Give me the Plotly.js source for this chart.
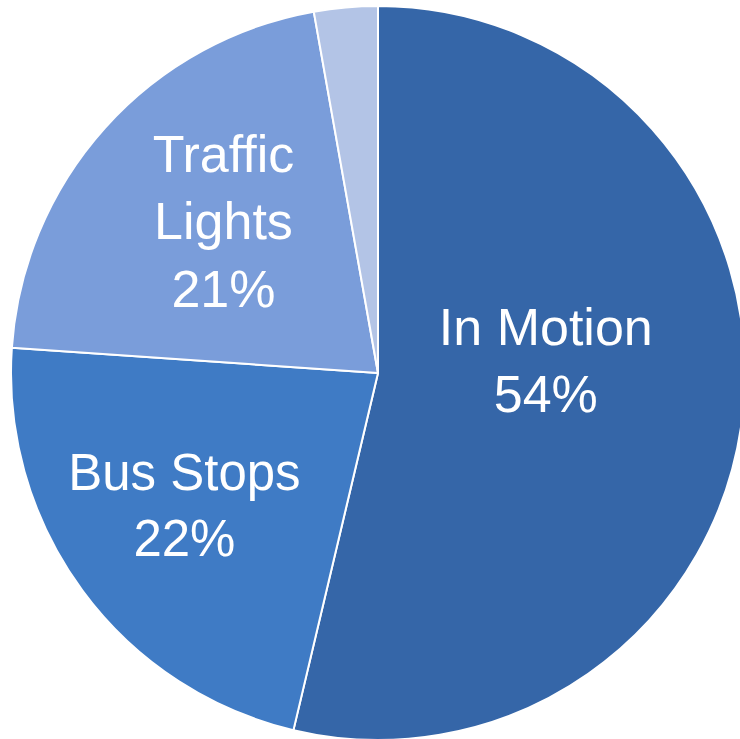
<!DOCTYPE html>
<html>
<head>
<meta charset="utf-8">
<script src="https://cdn.plot.ly/plotly-3.0.1.min.js"></script>
<style>
html, body { margin: 0; padding: 0; overflow: hidden; background: #ffffff; }
#chart { width: 760px; height: 760px; }
</style>
</head>
<body>
<div id="chart"></div>
<script>
const categories = ['In Motion', 'Bus Stops', 'Traffic Lights', 'Other'];
const shownNames = ['In Motion', 'Bus Stops', 'Traffic<br>Lights', ''];
const values = [53.7, 22.4, 21.1, 2.8];
const sliceColors = ['#3566A8', '#3F7BC5', '#7A9DDA', '#B3C4E6'];

// padding (non-breaking spaces / empty line) only nudges where each label block sits
const NB = '\u00A0\u00A0';
const padLeft = s => s.split('<br>').map(l => NB + l).join('<br>');
const labelText = [shownNames[0] + NB, shownNames[1] + NB, padLeft(shownNames[2]), shownNames[3]];
const templates = [
  '%{text}<br>%{percent:.0%}' + NB + '<br> ',
  '%{text}<br>%{percent:.0%}' + NB,
  '%{text}<br>' + NB + '%{percent:.0%}',
  ''
];

const W = 760, H = 760;
const cx = 378, cy = 373, r = 367;

Plotly.newPlot('chart', [{
  type: 'pie',
  labels: categories,
  values: values,
  text: labelText,
  texttemplate: templates,
  textposition: 'inside',
  insidetextorientation: 'horizontal',
  sort: false,
  direction: 'clockwise',
  rotation: 0,
  marker: { colors: sliceColors, line: { color: '#ffffff', width: 2 } },
  textfont: { family: 'Liberation Sans, Arial, sans-serif', size: 52, color: '#ffffff' },
  hoverinfo: 'none',
  domain: { x: [(cx - r) / W, (cx + r) / W], y: [(H - cy - r) / H, (H - cy + r) / H] }
}], {
  width: W, height: H,
  margin: { l: 0, r: 0, t: 0, b: 0 },
  showlegend: false,
  paper_bgcolor: '#ffffff'
}, { staticPlot: true, displayModeBar: false });
</script>
</body>
</html>
